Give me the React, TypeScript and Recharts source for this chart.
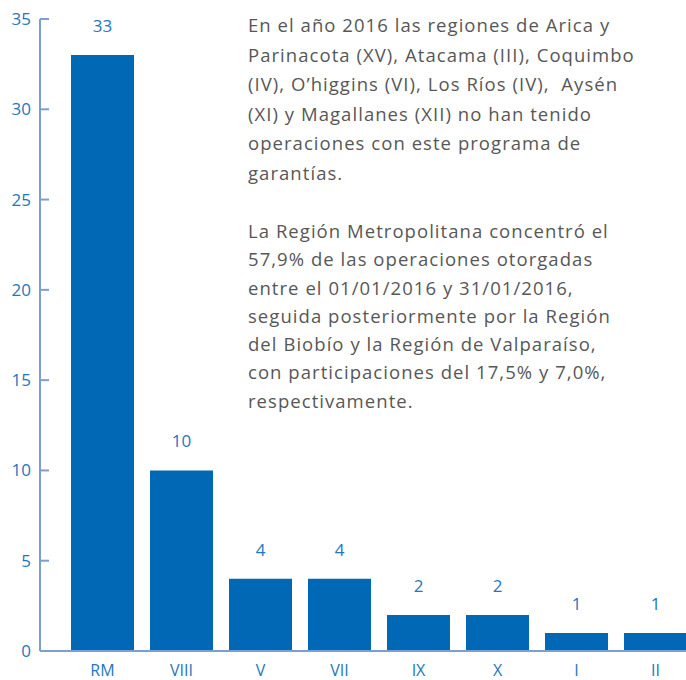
import React from 'react';
import { BarChart, Bar, XAxis, YAxis, LabelList } from 'recharts';

const regions = ['RM', 'VIII', 'V', 'VII', 'IX', 'X', 'I', 'II'];
const operations = [33, 10, 4, 4, 2, 2, 1, 1];
const yTicks = [0, 5, 10, 15, 20, 25, 30, 35];

const paragraphOne = [
    'En el año 2016 las regiones de Arica y',
    'Parinacota (XV), Atacama (III), Coquimbo',
    '(IV), O’higgins (VI), Los Ríos (IV),  Aysén',
    '(XI) y Magallanes (XII) no han tenido',
    'operaciones con este programa de',
    'garantías.',
];
const paragraphTwo = [
    'La Región Metropolitana concentró el',
    '57,9% de las operaciones otorgadas',
    'entre el 01/01/2016 y 31/01/2016,',
    'seguida posteriormente por la Región',
    'del Biobío y la Región de Valparaíso,',
    'con participaciones del 17,5% y 7,0%,',
    'respectivamente.',
];

const data = regions.map((r, i) => ({ region: r, value: operations[i] }));

const BAR = '#0068b4';
const AXIS = '#7a9fd3';
const LABEL = '#2377bd';
const FONT = '"Open Sans", sans-serif';

const YTick = ({ y, payload }: any) => (
    <g>
        <line x1={40} x2={49} y1={y} y2={y} stroke={AXIS} strokeWidth={2} />
        <text x={31} y={y} dy={6} textAnchor="end" fill={LABEL} fontSize={17} fontFamily={FONT}>
            {payload.value}
        </text>
    </g>
);

const XTick = ({ x, y, payload }: any) => (
    <text x={x} y={y} dy={17} textAnchor="middle" fill={LABEL} fontSize={16} fontFamily={FONT}>
        {payload.value}
    </text>
);

const App = () => (
    <div style={{ position: 'fixed', left: 0, top: 0, width: 686, height: 680, overflow: 'hidden', background: '#fff' }}>
        <BarChart width={700} height={680} data={data} margin={{ top: 19, right: 5, left: 0, bottom: 0 }}>
            <XAxis dataKey="region" axisLine={{ stroke: AXIS, strokeWidth: 2 }} tickLine={false}
                padding={{ left: 23, right: 0 }} height={29} tick={<XTick />} interval={0} />
            <YAxis domain={[0, 35]} ticks={yTicks} width={40} axisLine={{ stroke: AXIS, strokeWidth: 2 }}
                tickLine={false} tick={<YTick />} interval={0} />
            <Bar dataKey="value" fill={BAR} barSize={63} isAnimationActive={false}>
                <LabelList dataKey="value" position="top" offset={23} fill={LABEL} fontSize={17} fontFamily={FONT} />
            </Bar>
        </BarChart>
        <div style={{ position: 'absolute', left: 248, top: 10, fontFamily: FONT, fontSize: 18.5, letterSpacing: 1.05, color: '#575757', lineHeight: '29.5px', whiteSpace: 'pre' }}>
            {paragraphOne.map((l) => <div key={l}>{l}</div>)}
            <div style={{ height: 30 }} />
            {paragraphTwo.map((l) => <div key={l} style={{ lineHeight: '28.3px' }}>{l}</div>)}
        </div>
    </div>
);

export default App;
